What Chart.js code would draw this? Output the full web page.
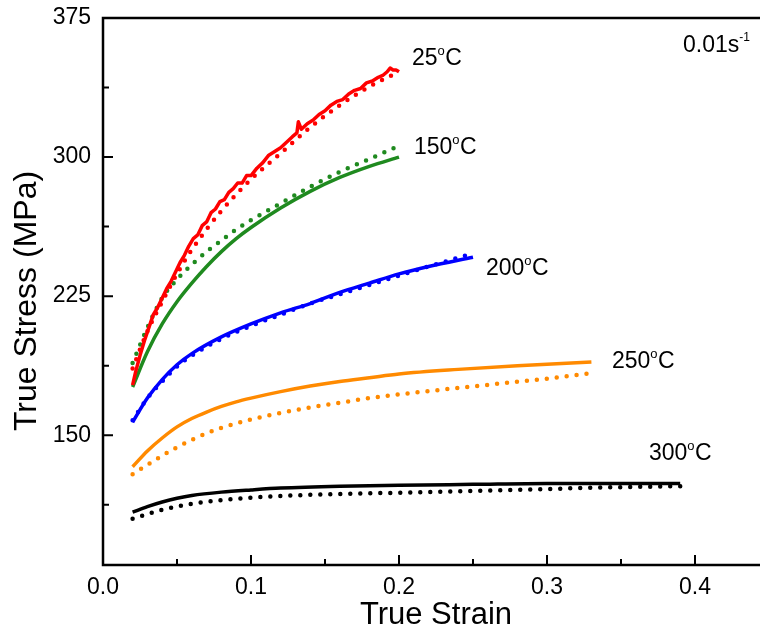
<!DOCTYPE html>
<html>
<head>
<meta charset="utf-8">
<title>True stress vs true strain</title>
<script src="https://cdn.jsdelivr.net/npm/chart.js@4.4.1/dist/chart.umd.min.js"></script>
<style>
  html, body { margin: 0; padding: 0; background: #fff; overflow: hidden; }
  #chart { display: block; }
</style>
</head>
<body>
<canvas id="chart" width="780" height="637"></canvas>
<script>
// Data (strain, stress MPa)
const temps = ['25', '150', '200', '250', '300'];
const colors = ['#ff0000', '#1f8a1f', '#0000ff', '#ff8a00', '#000000'];

// experimental curves (solid)
const exp25 = [[0.020,177],[0.022,184],[0.025,193],[0.028,201],[0.031,208],[0.034,215],[0.037,219],[0.040,224],[0.043,229],[0.046,233],[0.049,238],[0.052,243],[0.055,247],[0.058,252],[0.061,256],[0.064,258],[0.067,263],[0.070,265],[0.073,270],[0.076,272],[0.079,276],[0.082,277],[0.085,281],[0.088,283],[0.091,286],[0.094,286],[0.097,290],[0.100,290],[0.104,294],[0.108,297],[0.112,301],[0.116,303],[0.120,305],[0.124,308],[0.128,311],[0.131,313],[0.132,319],[0.134,315],[0.138,318],[0.142,320],[0.146,323],[0.150,325],[0.154,328],[0.158,330],[0.162,331],[0.166,334],[0.170,336],[0.174,337],[0.178,340],[0.182,341],[0.186,343],[0.189,344],[0.192,346],[0.194,348],[0.196,347],[0.198,347],[0.200,346]];
const exp150 = [[0.02,176],[0.03,195],[0.04,210],[0.05,222],[0.06,232],[0.07,241],[0.08,249],[0.09,256],[0.10,262],[0.12,272.5],[0.14,281.5],[0.16,289],[0.18,295],[0.20,300]];
const exp200 = [[0.02,157],[0.03,170],[0.04,180],[0.05,188],[0.06,194],[0.08,203],[0.10,210],[0.12,216],[0.14,221],[0.16,227],[0.18,232],[0.20,237],[0.22,241],[0.25,246]];
const exp250 = [[0.02,133],[0.03,141.5],[0.04,148.5],[0.05,154.5],[0.06,159],[0.07,162.5],[0.08,165.5],[0.09,168],[0.10,170],[0.12,173.5],[0.14,176.5],[0.16,179],[0.18,181],[0.20,183],[0.24,185.5],[0.28,187.5],[0.33,189.5]];
const exp300 = [[0.02,108.5],[0.03,111.5],[0.04,114],[0.05,116],[0.06,117.5],[0.08,119.3],[0.10,120.5],[0.12,121.5],[0.16,122.5],[0.20,123],[0.25,123.5],[0.30,124],[0.35,124],[0.39,124]];

// predicted curves (dotted)
const pred25 = [[0.02,186],[0.03,206],[0.04,222],[0.05,237],[0.06,250],[0.08,271],[0.10,288],[0.12,302],[0.14,316],[0.16,328],[0.18,338],[0.20,346]];
const pred150 = [[0.02,189],[0.03,208],[0.04,224],[0.05,234],[0.06,242],[0.07,249],[0.08,255],[0.09,261],[0.10,266],[0.12,275],[0.14,284],[0.16,292],[0.18,299],[0.20,306]];
const pred200 = [[0.02,158],[0.03,170],[0.04,179],[0.05,187],[0.06,193],[0.08,202],[0.10,209],[0.12,215],[0.14,221],[0.16,226],[0.18,231],[0.20,236],[0.22,241],[0.25,248]];
const pred250 = [[0.02,129],[0.03,134],[0.04,139],[0.05,143.5],[0.06,147.5],[0.07,151],[0.08,154],[0.10,158.5],[0.12,162],[0.14,165],[0.16,167.5],[0.18,170],[0.20,172],[0.24,175.5],[0.27,178],[0.30,180.5],[0.33,183.5]];
const pred300 = [[0.02,105],[0.03,107.5],[0.04,109.8],[0.05,111.5],[0.06,113],[0.08,115],[0.10,116.3],[0.12,117.2],[0.16,118.3],[0.20,119],[0.25,120],[0.30,121],[0.35,122],[0.39,122.5]];

const xTicks = [0.0, 0.1, 0.2, 0.3, 0.4];
const xMinor = [0.05, 0.15, 0.25, 0.35];
const yTicks = [150, 225, 300, 375];
const yMinor = [112.5, 187.5, 262.5, 337.5];

const FONT = '"Liberation Sans", Arial, sans-serif';

const expSets = [exp25, exp150, exp200, exp250, exp300];
const predSets = [pred25, pred150, pred200, pred250, pred300];

function toXY(arr) {
  return arr.map(p => ({ x: p[0], y: p[1] }));
}

const datasets = [];
temps.forEach((t, i) => {
  datasets.push({
    label: t + ' exp',
    data: toXY(expSets[i]),
    borderColor: colors[i],
    borderWidth: 3.5,
    borderJoinStyle: 'round',
    pointRadius: 0,
    tension: i === 0 ? 0 : 0.4,
    cubicInterpolationMode: i === 0 ? 'default' : 'monotone',
    order: i === 0 ? 1 : 2
  });
  datasets.push({
    label: t + ' pred',
    data: toXY(predSets[i]),
    borderColor: colors[i],
    borderWidth: 4.5,
    borderDash: [0, 10],
    borderCapStyle: 'round',
    pointRadius: 0,
    cubicInterpolationMode: 'monotone',
    order: i === 0 ? 2 : 1
  });
});

// frame, inward ticks, tick labels, titles and curve labels
const decorPlugin = {
  id: 'decor',
  afterDraw(chart) {
    const ctx = chart.ctx;
    const a = chart.chartArea;
    const xs = chart.scales.x, ys = chart.scales.y;
    ctx.save();
    ctx.strokeStyle = '#000';
    ctx.lineWidth = 2.5;
    ctx.beginPath();
    ctx.moveTo(a.right + 5, a.top);
    ctx.lineTo(a.left, a.top);
    ctx.lineTo(a.left, a.bottom);
    ctx.lineTo(a.right + 5, a.bottom);
    ctx.stroke();

    ctx.lineWidth = 2;
    ctx.beginPath();
    xTicks.concat(xMinor).forEach(v => {
      const len = xTicks.includes(v) ? 10 : 6;
      const px = xs.getPixelForValue(v);
      ctx.moveTo(px, a.bottom);
      ctx.lineTo(px, a.bottom - len);
    });
    yTicks.concat(yMinor).forEach(v => {
      const len = yTicks.includes(v) ? 10 : 6;
      const py = ys.getPixelForValue(v);
      ctx.moveTo(a.left, py);
      ctx.lineTo(a.left + len, py);
    });
    ctx.stroke();

    // tick labels
    ctx.fillStyle = '#000';
    ctx.font = '23px ' + FONT;
    ctx.textAlign = 'center';
    ctx.textBaseline = 'middle';
    xTicks.forEach(v => {
      ctx.fillText(v.toFixed(1), xs.getPixelForValue(v), a.bottom + 23);
    });
    ctx.textAlign = 'right';
    yTicks.forEach(v => {
      ctx.fillText(String(v), a.left - 12, ys.getPixelForValue(v));
    });

    // axis titles
    ctx.textAlign = 'center';
    ctx.font = '31px ' + FONT;
    ctx.fillText('True Strain', (a.left + a.right) / 2, 615);
    ctx.save();
    ctx.translate(27, 301);
    ctx.rotate(-Math.PI / 2);
    ctx.font = '32px ' + FONT;
    ctx.fillText('True Stress (MPa)', 0, 0);
    ctx.restore();

    // curve labels
    const labelPos = [[412, 65], [414, 154], [486, 275], [612, 368], [649, 460]];
    ctx.textAlign = 'left';
    ctx.textBaseline = 'alphabetic';
    temps.forEach((t, i) => {
      let [x, y] = labelPos[i];
      ctx.font = '23px ' + FONT;
      ctx.fillText(t, x, y);
      x += ctx.measureText(t).width;
      ctx.font = '13px ' + FONT;
      ctx.fillText('o', x, y - 10);
      x += ctx.measureText('o').width + 0.5;
      ctx.font = '23px ' + FONT;
      ctx.fillText('C', x, y);
    });

    ctx.font = '23px ' + FONT;
    ctx.fillText('0.01s', 683, 52);
    const w = ctx.measureText('0.01s').width;
    ctx.font = '12px ' + FONT;
    ctx.fillText('-1', 683 + w, 41);
    ctx.restore();
  }
};

new Chart(document.getElementById('chart'), {
  type: 'line',
  data: { datasets: datasets },
  options: {
    responsive: false,
    animation: false,
    events: [],
    layout: { padding: { left: 103, top: 18, right: 11, bottom: 72 } },
    plugins: { legend: { display: false }, tooltip: { enabled: false } },
    scales: {
      x: { type: 'linear', display: false, min: 0, max: 0.45 },
      y: { type: 'linear', display: false, min: 80, max: 375 }
    }
  },
  plugins: [decorPlugin]
});
</script>
</body>
</html>
